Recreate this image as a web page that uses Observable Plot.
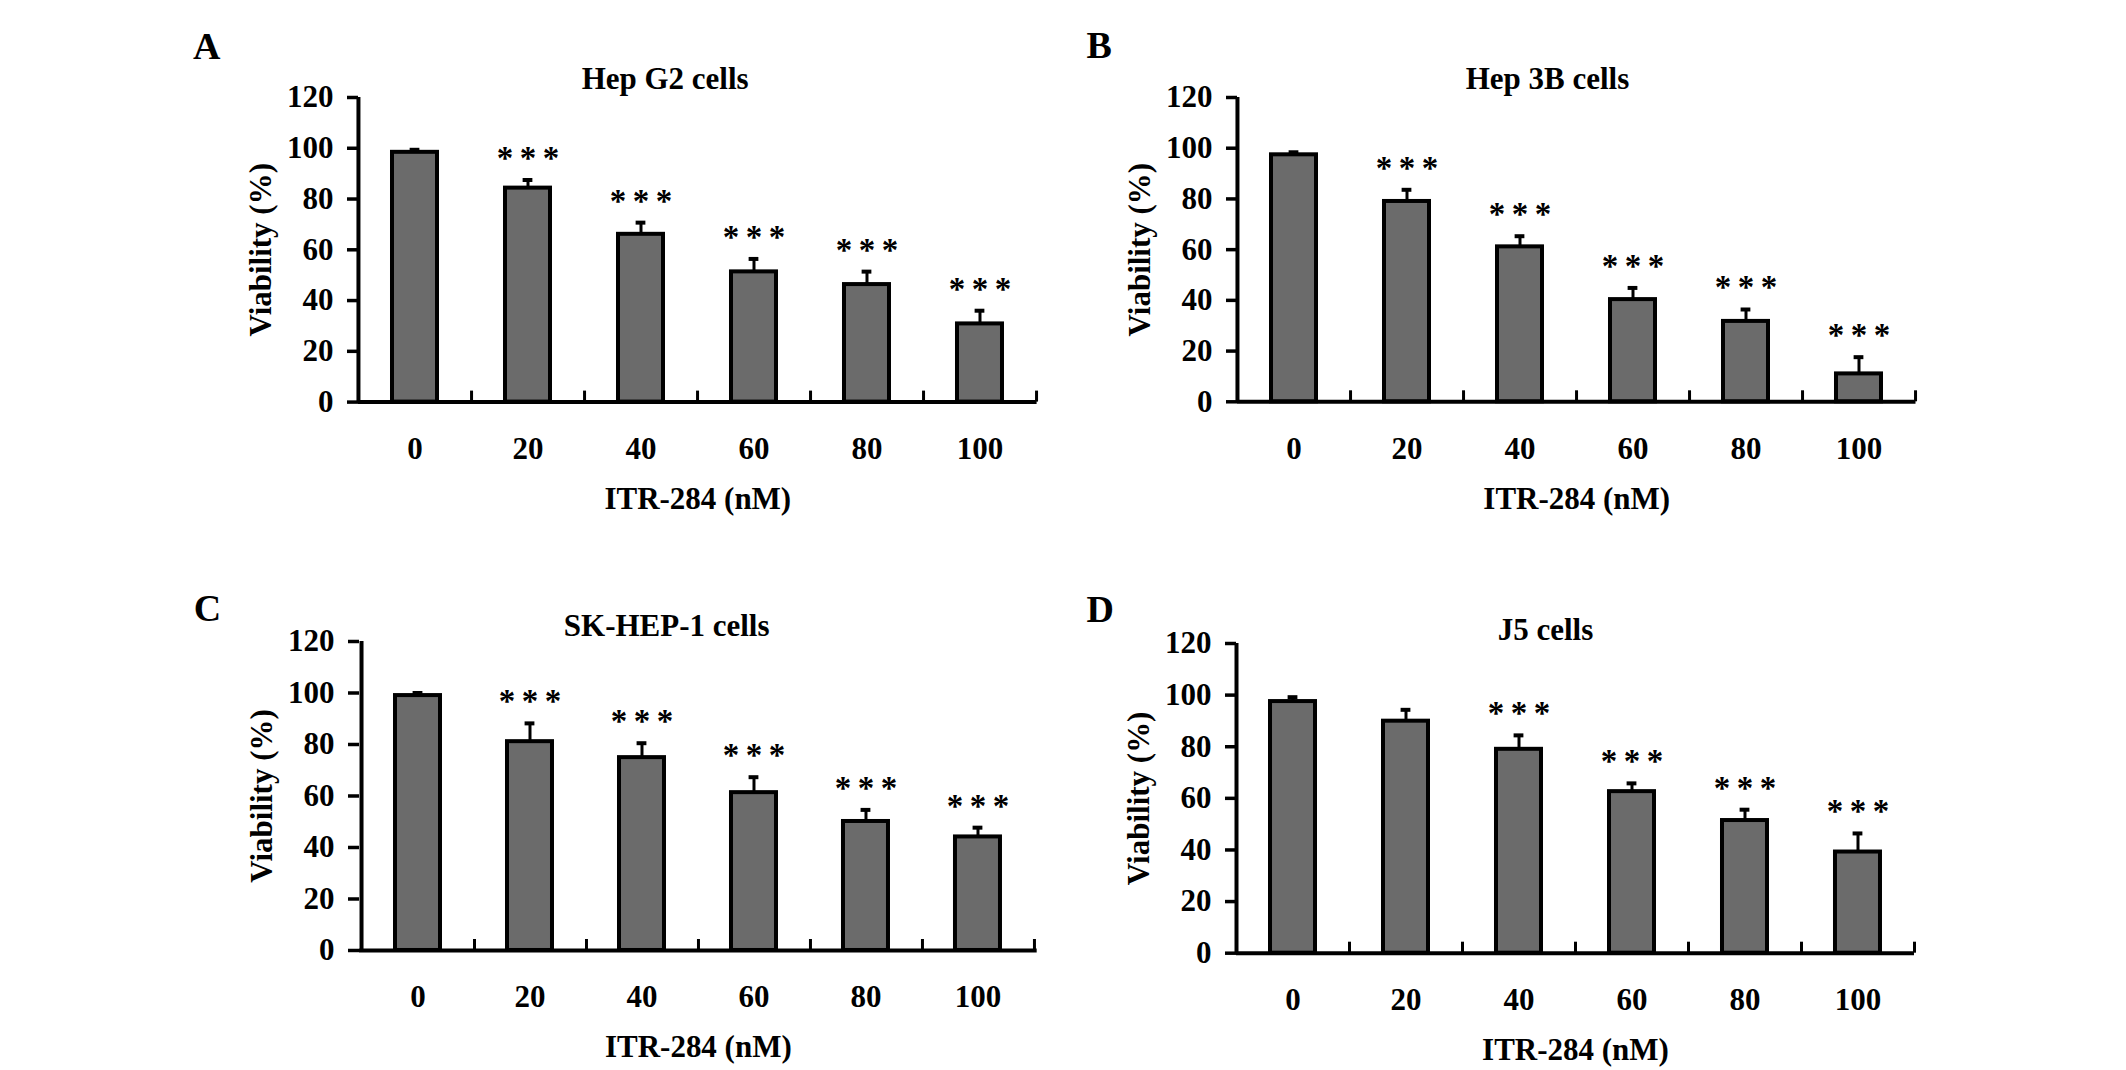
<!DOCTYPE html>
<html>
<head>
<meta charset="utf-8">
<script src="https://cdn.jsdelivr.net/npm/d3@7"></script>
<script src="https://cdn.jsdelivr.net/npm/@observablehq/plot@0.6"></script>
<style>
  body { margin: 0; background: #fff; }
  #fig { position: relative; width: 2126px; height: 1070px; background: #fff; overflow: hidden; }
  #fig svg { position: absolute; max-width: none; }
</style>
</head>
<body>
<div id="fig"></div>
<script>
// ITR-284 doses (nM)
const doses = ["0", "20", "40", "60", "80", "100"];
const yTicks = [0, 20, 40, 60, 80, 100, 120];
const xLabel = "ITR-284 (nM)";
const yLabel = "Viability (%)";

// viability (%) and upper error bars
const hepG2Mean = [98.4, 84.3, 66.1, 51.3, 46.3, 30.8];
const hepG2Err  = [1.0, 3.2, 4.6, 5.1, 5.1, 5.2];
const hepG2Sig  = ["", "***", "***", "***", "***", "***"];

const hep3BMean = [97.4, 79.0, 61.1, 40.3, 31.7, 11.0];
const hep3BErr  = [1.0, 4.6, 4.2, 4.6, 4.7, 6.6];
const hep3BSig  = ["", "***", "***", "***", "***", "***"];

const skHep1Mean = [99.0, 81.1, 74.9, 61.3, 50.1, 44.1];
const skHep1Err  = [1.0, 7.1, 5.6, 6.0, 4.5, 3.6];
const skHep1Sig  = ["", "***", "***", "***", "***", "***"];

const j5Mean = [97.5, 89.9, 79.0, 62.6, 51.4, 39.2];
const j5Err  = [1.7, 4.4, 5.4, 3.2, 4.2, 7.2];
const j5Sig  = ["", "", "***", "***", "***", "***"];

const panels = [
  {letter: "A", title: "Hep G2 cells", mean: hepG2Mean, err: hepG2Err, sig: hepG2Sig},
  {letter: "B", title: "Hep 3B cells", mean: hep3BMean, err: hep3BErr, sig: hep3BSig},
  {letter: "C", title: "SK-HEP-1 cells", mean: skHep1Mean, err: skHep1Err, sig: skHep1Sig},
  {letter: "D", title: "J5 cells", mean: j5Mean, err: j5Err, sig: j5Sig}
];

// where each plot frame sits on the page
const layout = [
  {x0: 358.4, x1: 1037, y0: 96.7, y1: 401.3, titleX: 665, titleY: 88, letterX: 193, letterY: 58},
  {x0: 1237, x1: 1915.5, y0: 96.7, y1: 401, titleX: 1547, titleY: 88, letterX: 1086, letterY: 57},
  {x0: 358.8, x1: 1036.5, y0: 640.5, y1: 949.5, titleX: 666, titleY: 635, letterX: 193, letterY: 620},
  {x0: 1236, x1: 1914, y0: 643, y1: 952.7, titleX: 1545, titleY: 640, letterX: 1086, letterY: 622}
];

const ML = 200, MT = 100, MR = 30, MB = 130;
const padIn = 0.6;

panels.forEach((p, i) => {
  const L = layout[i];
  const fw = L.x1 - L.x0, fh = L.y1 - L.y0;
  const step = fw / doses.length;
  const bw = step * (1 - padIn);
  const capInset = (bw - 10) / 2;

  const rows = doses.map((d, j) => ({dose: d, mean: p.mean[j], err: p.err[j], sig: p.sig[j]}));

  const chart = Plot.plot({
    width: fw + ML + MR,
    height: fh + MT + MB,
    marginLeft: ML, marginRight: MR, marginTop: MT, marginBottom: MB,
    style: {
      fontFamily: "'Liberation Serif', 'Times New Roman', serif",
      fontWeight: "bold",
      background: "transparent",
      color: "black",
      overflow: "visible"
    },
    x: {domain: doses, paddingInner: padIn, paddingOuter: padIn / 2, axis: null},
    y: {domain: [0, 120], axis: null},
    marks: [
      Plot.barY(rows, {x: "dose", y: "mean", fill: "#6b6b6b", stroke: "black", strokeWidth: 4}),
      Plot.ruleX(rows, {x: "dose", y1: "mean", y2: d => d.mean + d.err, stroke: "black", strokeWidth: 3}),
      Plot.tickY(rows, {x: "dose", y: d => d.mean + d.err, stroke: "black", strokeWidth: 4,
        insetLeft: capInset, insetRight: capInset}),
      Plot.text(rows, {x: "dose", y: d => d.mean + d.err, text: d => d.sig.split("").join("\u2009"), dy: -11,
        lineAnchor: "bottom", fontSize: 33, fill: "black"}),
      // axis lines and the small ticks between doses
      Plot.ruleY([0], {stroke: "black", strokeWidth: 4}),
      Plot.ruleX([doses[0]], {x: d => d, dx: -step / 2, stroke: "black", strokeWidth: 4}),
      Plot.ruleX(doses, {x: d => d, dx: step / 2, insetTop: fh - 11, stroke: "black", strokeWidth: 3}),
      Plot.axisY(yTicks, {label: null, tickSize: 11, tickPadding: 14, strokeWidth: 3.5, fontSize: 31,
        fontWeight: "bold", stroke: "black", fill: "black"}),
      Plot.text(doses, {x: d => d, text: d => d, frameAnchor: "bottom", dy: 57,
        lineAnchor: "bottom", fontSize: 31, fill: "black"}),
      Plot.text([xLabel], {text: d => d, frameAnchor: "bottom", dy: 107, textAnchor: "middle",
        lineAnchor: "bottom", fontSize: 31, fill: "black"}),
      Plot.text([yLabel], {text: d => d, frameAnchor: "left", dx: -97, rotate: -90,
        textAnchor: "middle", lineAnchor: "middle", fontSize: 31, fill: "black"}),
      Plot.text([p.title], {text: d => d, frameAnchor: "top-left", dx: L.titleX - L.x0,
        dy: L.titleY - L.y0, textAnchor: "middle", lineAnchor: "bottom", fontSize: 31, fill: "black"}),
      Plot.text([p.letter], {text: d => d, frameAnchor: "top-left", dx: L.letterX - L.x0,
        dy: L.letterY - L.y0, textAnchor: "start", lineAnchor: "bottom", fontSize: 38, fill: "black"})
    ]
  });

  chart.style.left = (L.x0 - ML) + "px";
  chart.style.top = (L.y0 - MT) + "px";
  document.getElementById("fig").append(chart);
});
</script>
</body>
</html>
